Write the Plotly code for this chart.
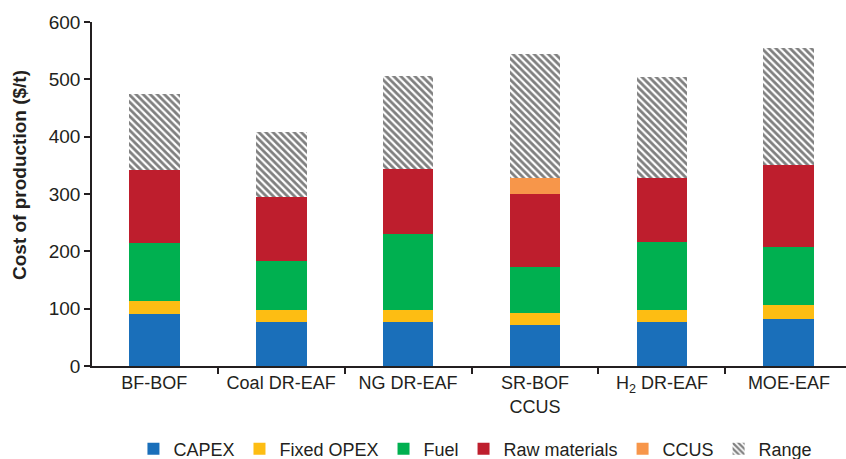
import plotly.graph_objects as go

categories = ["BF-BOF", "Coal DR-EAF", "NG DR-EAF", "SR-BOF<br>CCUS", "H<sub>2</sub> DR-EAF", "MOE-EAF"]
capex = [90, 76, 76, 72, 76, 82]
fixed_opex = [24, 21, 21, 20, 21, 25]
fuel = [100, 86, 134, 80, 120, 100]
raw_materials = [127, 111, 112, 128, 111, 144]
ccus = [0, 0, 0, 28, 0, 0]
rng = [134, 115, 162, 216, 176, 203]

series = [
    ("CAPEX", capex, "#1a6fba"),
    ("Fixed OPEX", fixed_opex, "#fdbd13"),
    ("Fuel", fuel, "#00b050"),
    ("Raw materials", raw_materials, "#be1e2d"),
    ("CCUS", ccus, "#f7964a"),
]

FONT = "Liberation Sans"
fig = go.Figure()
for name, vals, color in series:
    fig.add_trace(go.Bar(x=categories, y=vals, name=name, marker=dict(color=color, line=dict(width=0)),
                         width=0.4))
fig.add_trace(go.Bar(x=categories, y=rng, name="Range", width=0.4,
                     marker=dict(color="white", line=dict(width=0),
                                 pattern=dict(shape="\\", fgcolor="black", bgcolor="white", size=5, solidity=0.55))))

fig.update_layout(
    barmode="stack",
    width=846, height=459,
    margin=dict(l=92, r=0, t=22, b=93),
    plot_bgcolor="white", paper_bgcolor="white",
    font=dict(family=FONT, size=18, color="#231f20"),
    legend=dict(orientation="h", x=0.562, xanchor="center", xref="container",
                y=10/459, yanchor="middle", yref="container",
                font=dict(size=18), itemwidth=30, traceorder="normal", tracegroupgap=0),
    xaxis=dict(range=[-0.49, 5.45], showline=True, linecolor="#231f20", linewidth=1.5,
               ticks="outside", tickson="boundaries", ticklen=6, tickcolor="#231f20", tickwidth=1.5,
               tickfont=dict(size=18), automargin=False),
    yaxis=dict(range=[0, 600], dtick=100, showline=True, linecolor="#231f20", linewidth=1.5,
               ticks="outside", ticklen=6, tickcolor="#231f20", tickwidth=1.5, showgrid=False,
               zeroline=False, tickfont=dict(size=19), automargin=False),
    annotations=[dict(text="<b>Cost of production ($/t)</b>", xref="paper", yref="paper",
                      x=(19 - 92) / 754, y=(366 - 175) / 344, textangle=-90, showarrow=False,
                      xanchor="center", yanchor="middle", font=dict(size=19))],
)
fig.write_html("out.html", config={"displayModeBar": False},
               post_script="document.body.style.margin='0';document.body.style.padding='0';")
